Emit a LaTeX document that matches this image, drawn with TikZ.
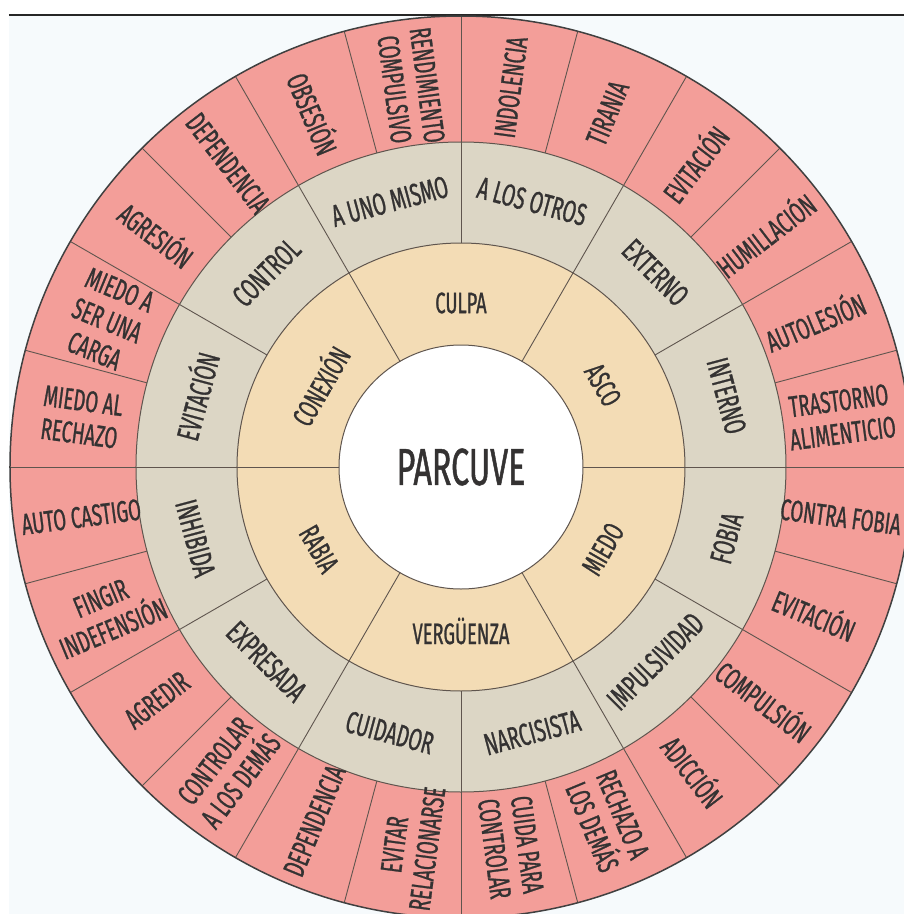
\documentclass[tikz,border=0pt]{standalone}
\usepackage{fontspec}
\setmainfont{Fira Sans}[FakeStretch=0.62, FakeBold=0.9]
\definecolor{pinkc}{RGB}{243,158,153}
\definecolor{grayc}{RGB}{220,214,197}
\definecolor{tanc}{RGB}{243,220,181}
\definecolor{bgc}{RGB}{246,250,252}
\definecolor{linec}{RGB}{95,85,78}
\definecolor{txt}{RGB}{52,50,50}
\begin{document}
\begin{tikzpicture}[
  sep/.style={draw=linec, line width=0.9pt},
  ring/.style={draw=linec, line width=1pt},
  lbl/.style={text=txt, align=center, inner sep=0pt},
  outerlbl/.style={lbl, font=\fontsize{30}{33}\selectfont},
  midlbl/.style={lbl, font=\fontsize{31}{33}\selectfont},
  innerlbl/.style={lbl, font=\fontsize{29.5}{32}\selectfont},
  centerlbl/.style={lbl, font=\fontsize{52}{56}\selectfont}
]
\useasboundingbox (-461pt,-447pt) rectangle (443pt,467pt);
\clip (-461pt,-447pt) rectangle (443pt,467pt);
\fill[white] (-461pt,-447pt) rectangle (443pt,467pt);
\fill[bgc] (-452pt,-447pt) rectangle (443pt,452pt);
\draw[line width=2pt, draw=black!85] (-452pt,452pt) -- (443pt,452pt);
\coordinate (c) at (0pt,0pt);
% rings
\fill[pinkc] (c) circle (451pt);
\fill[grayc] (c) circle (325pt);
\fill[tanc] (c) circle (224pt);
\fill[white] (c) circle (122pt);
% separators
\foreach \a in {0,15,...,345} \draw[sep] (\a:325pt) -- (\a:451pt);
\foreach \a in {0,30,...,330} \draw[sep] (\a:224pt) -- (\a:325pt);
\foreach \a in {0,60,...,300} \draw[sep] (\a:122pt) -- (\a:224pt);
\draw[draw=black!75, line width=1.5pt] (c) circle (451pt);
\draw[ring] (c) circle (325pt);
\draw[ring] (c) circle (224pt);
\draw[ring] (c) circle (122pt);
% center
\node[centerlbl] (center) at (c) {PARCUVE};
% inner ring
\foreach \a/\r/\t [count=\i] in {90/0/CULPA, 30/-60/ASCO, -30/60/MIEDO, -90/0/VERGÜENZA, -150/-60/RABIA, 150/60/CONEXIÓN}
  \node[innerlbl, rotate=\r] (t\i) at (\a:164pt) {\t};
% middle ring
\foreach \a/\r/\t [count=\i] in {105/15/A UNO MISMO, 75/-15/A LOS OTROS, 45/-45/EXTERNO, 15/-75/INTERNO, -15/75/FOBIA, -45/45/IMPULSIVIDAD, -75/15/NARCISISTA, -105/-15/CUIDADOR, -135/-45/EXPRESADA, -165/-75/INHIBIDA, 165/75/EVITACIÓN, 135/45/CONTROL}
  \node[midlbl, rotate=\r] (g\i) at (\a:275pt) {\t};
% outer ring
\foreach \a/\r/\t [count=\i] in {
  82.5/82.5/INDOLENCIA,
  67.5/67.5/TIRANIA,
  52.5/52.5/EVITACIÓN,
  37.5/37.5/HUMILLACIÓN,
  22.5/22.5/AUTOLESIÓN,
  7.5/7.5/TRASTORNO\\ALIMENTICIO,
  -7.5/-7.5/CONTRA FOBIA,
  -22.5/-22.5/EVITACIÓN,
  -37.5/-37.5/COMPULSIÓN,
  -52.5/-52.5/ADICCIÓN,
  -67.5/-67.5/RECHAZO A\\LOS DEMÁS,
  -82.5/-82.5/CUIDA PARA\\CONTROLAR,
  -97.5/82.5/EVITAR\\RELACIONARSE,
  -112.5/67.5/DEPENDENCIA,
  -127.5/52.5/CONTROLAR\\A LOS DEMÁS,
  -142.5/37.5/AGREDIR,
  -157.5/22.5/FINGIR\\INDEFENSIÓN,
  -172.5/7.5/AUTO CASTIGO,
  172.5/-7.5/MIEDO AL\\RECHAZO,
  157.5/-22.5/MIEDO A\\SER UNA\\CARGA,
  142.5/-37.5/AGRESIÓN,
  127.5/-52.5/DEPENDENCIA,
  112.5/-67.5/OBSESIÓN,
  97.5/-82.5/RENDIMIENTO\\COMPULSIVO}
  \node[outerlbl, rotate=\r] (o\i) at (\a:383pt) {\t};
\end{tikzpicture}
\end{document}
